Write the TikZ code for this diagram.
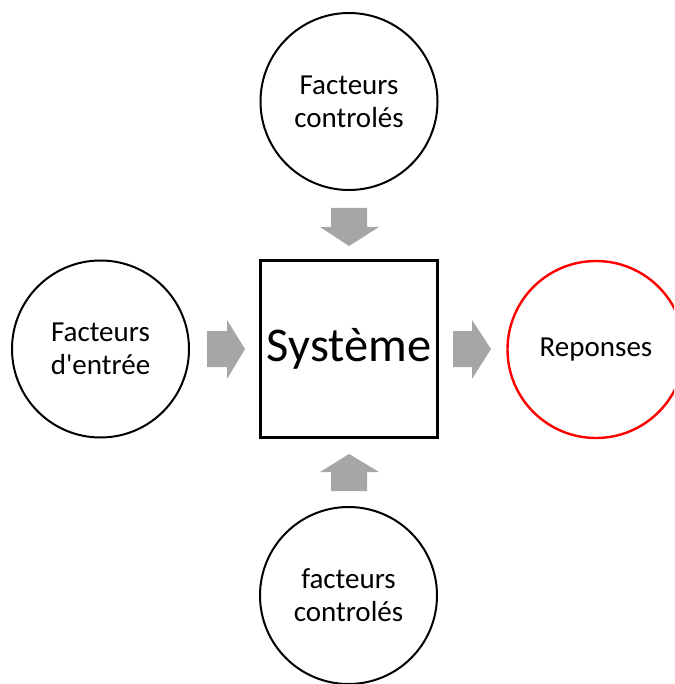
\documentclass[tikz,border=0pt]{standalone}
\usepackage{fontspec}
\setmainfont{Carlito}
\begin{document}
\begin{tikzpicture}[x=1pt,y=-1pt,
  circ/.style={circle,draw=black,line width=2pt,minimum size=177pt,inner sep=0pt,align=center,
    font=\fontsize{29}{33}\selectfont},
  redcirc/.style={circ,draw=red,line width=2.4pt},
  sysbox/.style={rectangle,draw=black,line width=2.2pt,minimum size=177pt,inner sep=0pt,
    font=\fontsize{48.5}{52}\selectfont},
  blockarrow/.style={fill=black!35,draw=none}]
\useasboundingbox (0,0) rectangle (674,684);
\clip (0,0) rectangle (674,684);
\node[sysbox] (sys) at (349,349) {Système};
\node[circ] (top) at (349,101.5) {Facteurs\\controlés};
\node[circ] (left) at (100.5,349) {Facteurs\\d\textquotesingle entrée};
\node[circ] (bottom) at (348.5,595.5) {facteurs\\controlés};
\node[redcirc] (right) at (596,349.5) {Reponses};
% block arrows
\fill[blockarrow] (331,208) -- (367,208) -- (367,227) -- (379,227) -- (349,246) -- (320,227) -- (331,227) -- cycle;
\fill[blockarrow] (331,491) -- (367,491) -- (367,472) -- (379,472) -- (349,454) -- (320,472) -- (331,472) -- cycle;
\fill[blockarrow] (207,331) -- (227,331) -- (227,320) -- (245,349) -- (227,379) -- (227,367) -- (207,367) -- cycle;
\fill[blockarrow] (453,331) -- (472,331) -- (472,320) -- (491,349) -- (472,379) -- (472,367) -- (453,367) -- cycle;
\end{tikzpicture}
\end{document}
